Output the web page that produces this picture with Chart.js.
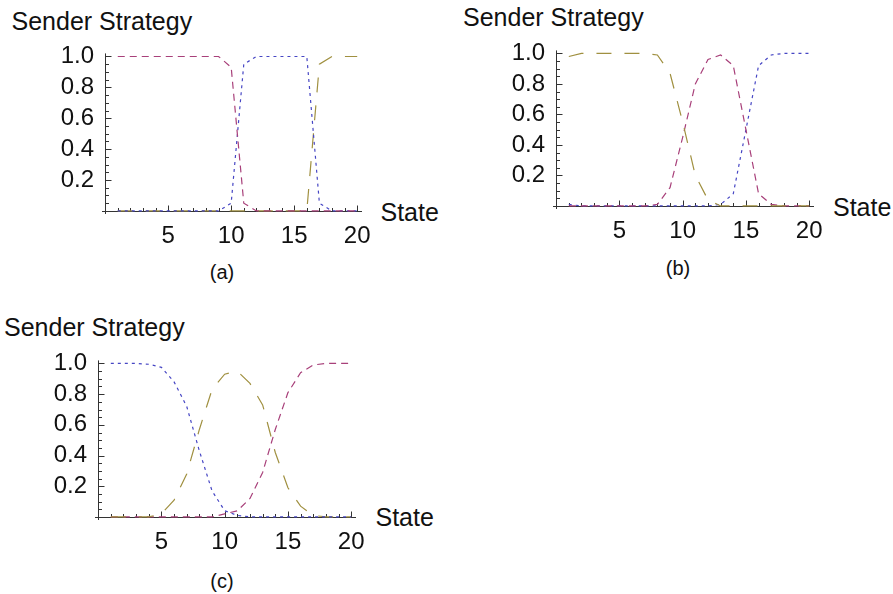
<!DOCTYPE html>
<html>
<head>
<meta charset="utf-8">
<script src="https://cdn.jsdelivr.net/npm/chart.js@4"></script>
<style>
  body { margin: 0; background: #fff; width: 893px; height: 594px; position: relative; overflow: hidden;
         font-family: "Liberation Sans", Arial, sans-serif; color: #111; }
  canvas { position: absolute; }
  .lbl { position: absolute; white-space: nowrap; line-height: 1; }
  .title { font-size: 25px; }
  .state { font-size: 25px; }
  .cap { font-size: 20px; transform: translateX(-50%); }
</style>
</head>
<body>
<div class="lbl title" style="left:11.5px; top:8.8px;">Sender Strategy</div>
<div class="lbl state" style="left:380.5px; top:200.3px;">State</div>
<div class="lbl cap" style="left:222px; top:262.4px;">(a)</div>
<canvas id="panelA"></canvas>

<div class="lbl title" style="left:463px; top:4.8px;">Sender Strategy</div>
<div class="lbl state" style="left:833px; top:194.8px;">State</div>
<div class="lbl cap" style="left:678px; top:258px;">(b)</div>
<canvas id="panelB"></canvas>

<div class="lbl title" style="left:4px; top:314.8px;">Sender Strategy</div>
<div class="lbl state" style="left:375.5px; top:505.3px;">State</div>
<div class="lbl cap" style="left:222px; top:571.4px;">(c)</div>
<canvas id="panelC"></canvas>

<script>
// states on the horizontal axis
const states = [1, 2, 3, 4, 5, 6, 7, 8, 9, 10, 11, 12, 13, 14, 15, 16, 17, 18, 19, 20];
const xTicks = [5, 10, 15, 20];
const yTicks = [0.2, 0.4, 0.6, 0.8, 1.0];

// (a)
const aPink  = [1, 1, 1, 1, 1, 1, 1, 1, 1, 0.93, 0.05, 0, 0, 0, 0, 0, 0, 0, 0, 0];
const aBlue  = [0, 0, 0, 0, 0, 0, 0, 0, 0, 0.05, 0.95, 1, 1, 1, 1, 1, 0.05, 0, 0, 0];
const aOlive = [0, 0, 0, 0, 0, 0, 0, 0, 0, 0, 0, 0, 0, 0, 0, 0, 0.95, 1, 1, 1];

// (b)
const bOlive = [0.98, 1, 1, 1, 1, 1, 1, 0.99, 0.87, 0.55, 0.2, 0.04, 0, 0, 0, 0, 0, 0, 0, 0];
const bPink  = [0, 0, 0, 0, 0, 0, 0, 0.01, 0.12, 0.45, 0.8, 0.96, 0.99, 0.92, 0.5, 0.08, 0.01, 0, 0, 0];
const bBlue  = [0.01, 0, 0, 0, 0, 0, 0, 0, 0, 0, 0, 0, 0.01, 0.08, 0.5, 0.92, 0.99, 1, 1, 1];

// (c)
const cBlue  = [1, 1, 1, 0.995, 0.975, 0.88, 0.72, 0.43, 0.17, 0.04, 0.01, 0, 0, 0, 0, 0, 0, 0, 0, 0];
const cOlive = [0, 0, 0, 0, 0.02, 0.11, 0.28, 0.57, 0.83, 0.93, 0.95, 0.87, 0.73, 0.42, 0.19, 0.07, 0.01, 0, 0, 0];
const cPink  = [0, 0, 0, 0, 0, 0, 0, 0, 0, 0.02, 0.04, 0.12, 0.29, 0.57, 0.81, 0.94, 0.99, 1, 1, 1];

const styles = {
  blue:  { color: '#4646c4', dash: [3, 4] },
  pink:  { color: '#a8407a', dash: [7, 5] },
  olive: { color: '#a09040', dash: [15, 13] }
};

// axes crossing at the origin, with inward ticks
const crossAxes = {
  id: 'crossAxes',
  beforeDatasetsDraw(chart) {
    const { ctx, scales: { x, y } } = chart;
    const x0 = Math.round(x.getPixelForValue(0)) + 0.5;
    const y0 = Math.round(y.getPixelForValue(0)) + 0.5;
    ctx.save();
    ctx.strokeStyle = '#333';
    ctx.lineWidth = 1;
    ctx.beginPath();
    ctx.moveTo(x.left, y0); ctx.lineTo(x.right, y0);
    ctx.moveTo(x0, y.bottom); ctx.lineTo(x0, y.top);
    for (let s = 1; s <= 20; s++) {
      const px = Math.round(x.getPixelForValue(s)) + 0.5;
      const len = s % 5 === 0 ? 6 : 3.5;
      ctx.moveTo(px, y0); ctx.lineTo(px, y0 - len);
    }
    for (let k = 1; k <= 20; k++) {
      const py = Math.round(y.getPixelForValue(k * 0.05)) + 0.5;
      const len = k % 4 === 0 ? 6 : 3.5;
      ctx.moveTo(x0, py); ctx.lineTo(x0 + len, py);
    }
    ctx.stroke();
    ctx.restore();
  }
};

const tickFont = { family: '"Liberation Sans", Arial, sans-serif', size: 24 };

function makePanel(id, area, series) {
  const padL = 60, padT = 20, padR = 30, padB = 40;
  const canvas = document.getElementById(id);
  canvas.width = area.right - area.left + padL + padR;
  canvas.height = area.bottom - area.top + padT + padB;
  canvas.style.left = (area.left - padL) + 'px';
  canvas.style.top = (area.top - padT) + 'px';

  new Chart(canvas.getContext('2d'), {
    type: 'line',
    data: {
      datasets: series.map(([vals, st]) => ({
        data: states.map((s, i) => ({ x: s, y: vals[i] })),
        borderColor: styles[st].color,
        borderDash: styles[st].dash,
        borderWidth: 1.2,
        pointRadius: 0,
        fill: false,
        tension: 0
      }))
    },
    options: {
      responsive: false,
      animation: false,
      layout: { padding: { left: 0, top: padT, right: padR, bottom: 0 } },
      plugins: { legend: { display: false }, tooltip: { enabled: false } },
      scales: {
        x: {
          type: 'linear', min: -0.25, max: 20.38,
          grid: { display: false, drawTicks: false }, border: { display: false },
          afterBuildTicks: sc => { sc.ticks = xTicks.map(v => ({ value: v })); },
          afterFit: sc => { sc.height = padB; },
          ticks: { font: tickFont, color: '#111', padding: 8, autoSkip: false, maxRotation: 0,
                   callback: v => String(v) }
        },
        y: {
          min: -0.02, max: 1.02,
          grid: { display: false, drawTicks: false }, border: { display: false },
          afterBuildTicks: sc => { sc.ticks = yTicks.map(v => ({ value: v })); },
          afterFit: sc => { sc.width = padL; },
          ticks: { font: tickFont, color: '#111', padding: 8, autoSkip: false,
                   callback: v => Number(v).toFixed(1) }
        }
      }
    },
    plugins: [crossAxes]
  });
}

makePanel('panelA', { left: 102, top: 51, right: 362, bottom: 214 },
  [[aPink, 'pink'], [aBlue, 'blue'], [aOlive, 'olive']]);
makePanel('panelB', { left: 553, top: 48, right: 814, bottom: 209 },
  [[bOlive, 'olive'], [bPink, 'pink'], [bBlue, 'blue']]);
makePanel('panelC', { left: 95, top: 358, right: 356, bottom: 520 },
  [[cBlue, 'blue'], [cOlive, 'olive'], [cPink, 'pink']]);
</script>
</body>
</html>
